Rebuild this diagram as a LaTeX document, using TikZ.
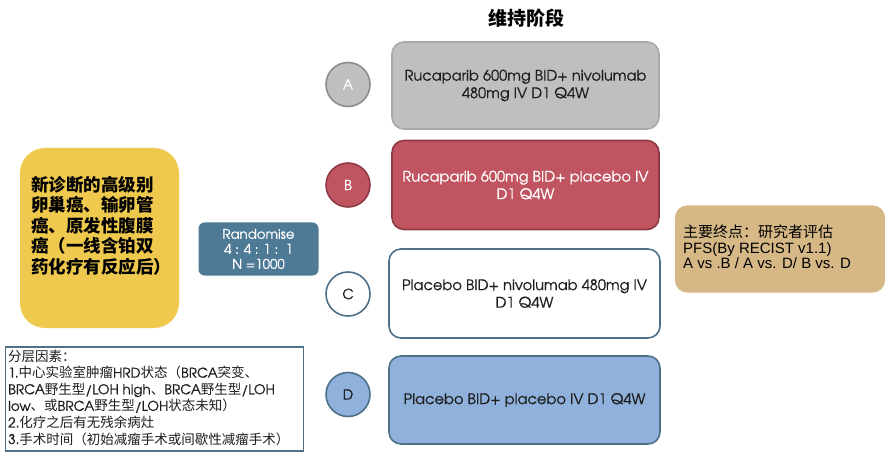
\documentclass[tikz,border=0pt]{standalone}
\usepackage{fontspec}
\setmainfont{Liberation Sans}
\newfontfamily\cjk{Noto Sans CJK SC}
\newfontfamily\gothic[RawFeature={embolden=0.7}]{TeX Gyre Adventor}
\newcommand\zh[1]{{\cjk #1}}
\definecolor{boxgray}{HTML}{BFBFBF}
\definecolor{boxgrayline}{HTML}{A9A9A9}
\definecolor{circgrayline}{HTML}{8C8C8C}
\definecolor{armred}{HTML}{C05461}
\definecolor{armredline}{HTML}{8E3B46}
\definecolor{slateline}{HTML}{4E7089}
\definecolor{armblue}{HTML}{8FB1DB}
\definecolor{randblue}{HTML}{4E7A96}
\definecolor{yellowbox}{HTML}{EEC94E}
\definecolor{tanbox}{HTML}{D5B886}
\definecolor{darktext}{HTML}{1E1E1E}
\begin{document}
\begin{tikzpicture}[x=1pt,y=-1pt,
  armbox/.style={draw, rounded corners=12pt, line width=1.6pt, inner sep=0pt, align=center,
    font=\gothic\fontsize{14.6}{17.5}\selectfont},
  armlabel/.style={circle, draw, line width=1.6pt, minimum size=44pt, inner sep=0pt,
    font=\gothic\fontsize{14}{14}\selectfont}
]
\useasboundingbox (0,0) rectangle (885,454);

\node[font=\cjk\bfseries\fontsize{19}{19}\selectfont] (title) at (526,18) {维持阶段};

% arms
\node[armbox, fill=boxgray, draw=boxgrayline, text=darktext, minimum width=267pt, minimum height=87pt] (armA) at (525.5,85.5)
  {Rucaparib 600mg BID+ nivolumab\\480mg IV D1 Q4W};
\node[armbox, fill=armred, draw=armredline, text=white, minimum width=267pt, minimum height=89pt] (armB) at (525.5,185)
  {Rucaparib 600mg BID+ placebo IV\\D1 Q4W};
\node[armbox, fill=white, draw=slateline, text=darktext, minimum width=271pt, minimum height=89pt] (armC) at (524.5,293.5)
  {Placebo BID+ nivolumab 480mg IV\\D1 Q4W};
\node[armbox, fill=armblue, draw=slateline, text=darktext, minimum width=271pt, minimum height=88pt] (armD) at (524.5,400)
  {Placebo BID+ placebo IV D1 Q4W};

% labels
\node[armlabel, fill=boxgray, draw=circgrayline, text=white] (labA) at (348,84.5) {A};
\node[armlabel, fill=armred, draw=armredline, text=white] (labB) at (348,185) {B};
\node[armlabel, fill=white, draw=slateline, text=darktext] (labC) at (348,294) {C};
\node[armlabel, fill=armblue, draw=slateline, text=darktext] (labD) at (348,394.5) {D};

% population
\node[fill=yellowbox, rounded corners=25pt, minimum width=159pt, minimum height=180pt, inner sep=0pt] (pop) at (99.5,238) {};
\node[anchor=north west, align=left, inner sep=0pt,
  font=\cjk\bfseries\fontsize{17.5}{20.5}\selectfont] (poptext) at (31,176)
  {新诊断的高级别\\卵巢癌、输卵管\\癌、原发性腹膜\\癌（一线含铂双\\药化疗有反应后）};

% randomise
\node[fill=randblue, rounded corners=6pt, minimum width=120pt, minimum height=53pt, inner sep=0pt,
  text=white, align=center, font=\gothic\fontsize{13.3}{15}\selectfont] (rand) at (258.5,249)
  {Randomise\\4 : 4 : 1 :\ \ 1\\N =1000};

% stratification
\node[draw=slateline, line width=1.6pt, fill=white, minimum width=298pt, minimum height=104pt, inner sep=0pt] (strat) at (154.5,399) {};
\node[anchor=north west, align=left, inner sep=0pt, text=darktext,
  font=\gothic\fontsize{13.5}{16.6}\selectfont] (strattext) at (8,349.5)
  {\zh{分层因素：}\\
   1.\zh{中心实验室肿瘤}HRD\zh{状态（}BRCA\zh{突变、}\\
   BRCA\zh{野生型}/LOH high\zh{、}BRCA\zh{野生型}/LOH\\
   low\zh{、或}BRCA\zh{野生型}/LOH\zh{状态未知）}\\
   2.\zh{化疗之后有无残余病灶}\\
   3.\zh{手术时间（初始减瘤手术或间歇性减瘤手术）}};

% endpoint
\node[fill=tanbox, rounded corners=12pt, minimum width=210pt, minimum height=87pt, inner sep=0pt] (endp) at (780,249) {};
\node[anchor=west, align=left, inner sep=0pt,
  font=\fontsize{15}{15.5}\selectfont] (endtext) at (683,247)
  {\zh{主要终点：研究者评估}\\PFS(By RECIST v1.1)\\A vs .B / A vs. D/ B vs. D};
\end{tikzpicture}
\end{document}
